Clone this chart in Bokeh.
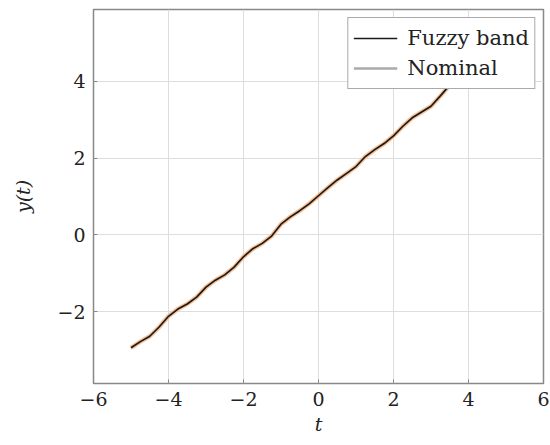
from bokeh.plotting import figure
from bokeh.models import Range1d, FixedTicker, Legend, LegendItem
from bokeh.embed import file_html
from bokeh.resources import INLINE

t_vals = [-5.0, -4.75, -4.5, -4.25, -4.0, -3.75, -3.5, -3.25, -3.0, -2.75, -2.5, -2.25,
          -2.0, -1.75, -1.5, -1.25, -1.0, -0.75, -0.5, -0.25, 0.0, 0.25, 0.5, 0.75,
          1.0, 1.25, 1.5, 1.75, 2.0, 2.25, 2.5, 2.75, 3.0, 3.25, 3.5, 3.75, 4.0, 4.25,
          4.5, 4.75, 5.0]
y_vals = [-2.94, -2.78, -2.64, -2.40, -2.12, -1.93, -1.80, -1.62, -1.36, -1.18, -1.04, -0.84,
          -0.57, -0.36, -0.22, -0.03, 0.28, 0.47, 0.63, 0.81, 1.02, 1.23, 1.43, 1.60,
          1.78, 2.04, 2.22, 2.38, 2.58, 2.83, 3.05, 3.20, 3.35, 3.62, 3.90, 4.10, 4.25, 4.42,
          4.68, 4.92, 5.06]
x_ticks = [-6, -4, -2, 0, 2, 4, 6]
y_ticks = [-2, 0, 2, 4]
legend_labels = ["Fuzzy band", "Nominal"]
x_label = "t"
y_label = "y(t)"

FONT = "DejaVu Serif"

p = figure(width=550, height=445, output_backend="svg", toolbar_location=None,
           x_range=Range1d(-6, 6), y_range=Range1d(-3.87, 5.87),
           min_border_left=93, min_border_right=7, min_border_top=9, min_border_bottom=62)
p.background_fill_color = "white"
p.border_fill_color = "white"
p.outline_line_color = "#888888"
p.outline_line_width = 1.5

def minus(v):
    return ("\u2212" + str(abs(v))) if v < 0 else str(v)

p.xaxis.ticker = FixedTicker(ticks=x_ticks)
p.yaxis.ticker = FixedTicker(ticks=y_ticks)
p.xaxis.major_label_overrides = {v: minus(v) for v in x_ticks}
p.yaxis.major_label_overrides = {v: minus(v) for v in y_ticks}

for ax in (p.xaxis, p.yaxis):
    ax.axis_line_color = None
    ax.major_tick_in = 4
    ax.major_tick_out = 0
    ax.major_tick_line_color = "#888888"
    ax.minor_tick_line_color = None
    ax.major_label_text_font = FONT
    ax.major_label_text_font_size = "19px"
    ax.major_label_text_color = "#222222"
    ax.major_label_standoff = 8
    ax.axis_label_text_font = FONT
    ax.axis_label_text_font_size = "19px"
    ax.axis_label_text_font_style = "italic"
    ax.axis_label_text_color = "#222222"

p.xaxis.axis_label = x_label
p.yaxis.axis_label = y_label
p.xaxis.axis_label_standoff = 4
p.yaxis.axis_label_standoff = 20

p.xgrid.ticker = FixedTicker(ticks=x_ticks)
p.ygrid.ticker = FixedTicker(ticks=y_ticks)
p.grid.grid_line_color = "#dddddd"
p.grid.grid_line_width = 1

nominal = p.line(t_vals, y_vals, line_color="#aaaaaa", line_width=2.5)
halo = p.line(t_vals, y_vals, line_color="#f6b784", line_width=4.5, line_alpha=0.8)
fuzzy = p.line(t_vals, y_vals, line_color="#1a1a1a", line_width=1.6)

legend = Legend(items=[LegendItem(label=legend_labels[0], renderers=[fuzzy]),
                       LegendItem(label=legend_labels[1], renderers=[nominal])],
                location="top_right")
legend.label_text_font = FONT
legend.label_text_font_size = "21px"
legend.label_text_color = "#222222"
legend.glyph_width = 44
legend.glyph_height = 30
legend.label_height = 30
legend.label_standoff = 10
legend.spacing = 0
legend.padding = 5
legend.margin = 8
legend.border_line_color = "#555555"
legend.border_line_width = 1
legend.background_fill_alpha = 1.0
p.add_layout(legend)

open("out.html", "w").write(file_html(p, INLINE))
